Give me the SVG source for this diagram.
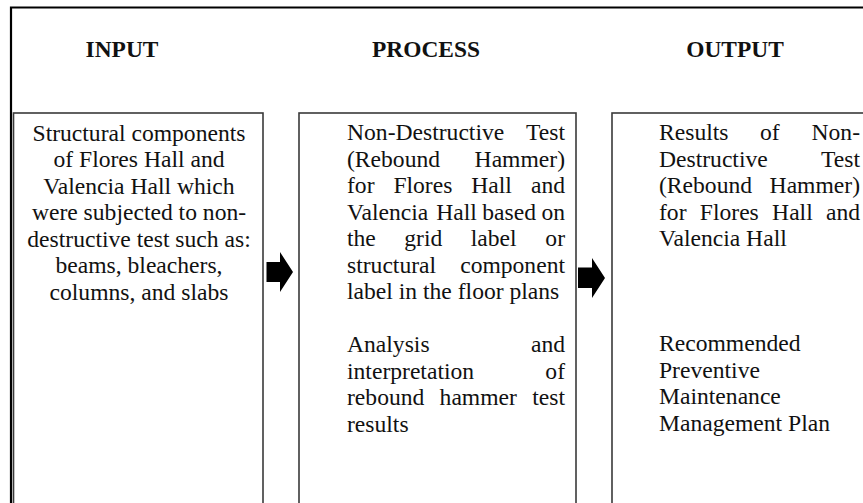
<svg xmlns="http://www.w3.org/2000/svg" width="863" height="503" viewBox="0 0 863 503" font-family="'Liberation Serif', 'Times New Roman', 'DejaVu Serif', serif">
<style>
text{font-family:'Liberation Serif','Times New Roman','DejaVu Serif',serif;font-size:23.6px;fill:#111}
.h{font-weight:bold;font-size:23.4px;text-anchor:middle}
.c{text-anchor:middle}
.e{text-anchor:end}
.box{fill:#fff;stroke:#3a3a3a;stroke-width:1.6}
.frame{fill:none;stroke:#000;stroke-width:2.2}
.arr{fill:#000}
</style>
<rect width="863" height="503" fill="#fff"/>
<path class="frame" d="M11,510 V7.5 H870"/>
<g id="headings">
<text class="h" x="122" y="57">INPUT</text>
<text class="h" x="426" y="57">PROCESS</text>
<text class="h" x="735" y="57">OUTPUT</text>
</g>
<g id="input">
<rect class="box" x="13.5" y="113" width="249.5" height="400"/>
<text class="c" x="139" y="140.5">Structural components</text>
<text class="c" x="139" y="167">of Flores Hall and</text>
<text class="c" x="139" y="193.5">Valencia Hall which</text>
<text class="c" x="139" y="220">were subjected to non-</text>
<text class="c" x="139" y="246.5">destructive test such as:</text>
<text class="c" x="139" y="273">beams, bleachers,</text>
<text class="c" x="139" y="299.5">columns, and slabs</text>
</g>
<g id="process">
<rect class="box" x="299" y="113" width="277" height="400"/>
<text x="347" y="140">Non-Destructive</text><text class="e" x="565" y="140">Test</text>
<text x="347" y="166.5">(Rebound</text><text class="e" x="565" y="166.5">Hammer)</text>
<text x="347" y="193">for</text><text x="393.4" y="193">Flores</text><text x="471.3" y="193">Hall</text><text class="e" x="565" y="193">and</text>
<text x="347" y="219.5">Valencia</text><text x="436.3" y="219.5">Hall</text><text x="482.3" y="219.5">based</text><text class="e" x="565" y="219.5">on</text>
<text x="347" y="246">the</text><text x="404.3" y="246">grid</text><text x="470.8" y="246">label</text><text class="e" x="565" y="246">or</text>
<text x="347" y="272.5">structural</text><text class="e" x="565" y="272.5">component</text>
<text x="347" y="299">label in the floor plans</text>
<text x="347" y="352">Analysis</text><text class="e" x="565" y="352">and</text>
<text x="347" y="378.5">interpretation</text><text class="e" x="565" y="378.5">of</text>
<text x="347" y="405">rebound</text><text x="439.6" y="405">hammer</text><text class="e" x="565" y="405">test</text>
<text x="347" y="431.5">results</text>
</g>
<g id="output">
<rect class="box" x="612" y="113" width="260" height="400"/>
<text x="659" y="140">Results</text><text x="760" y="140">of</text><text class="e" x="860" y="140">Non-</text>
<text x="659" y="166.5">Destructive</text><text class="e" x="860" y="166.5">Test</text>
<text x="659" y="193">(Rebound</text><text class="e" x="860" y="193">Hammer)</text>
<text x="659" y="219.5">for</text><text x="699.8" y="219.5">Flores</text><text x="772.1" y="219.5">Hall</text><text class="e" x="860" y="219.5">and</text>
<text x="659" y="246">Valencia Hall</text>
<text x="659" y="351">Recommended</text>
<text x="659" y="377.5">Preventive</text>
<text x="659" y="404">Maintenance</text>
<text x="659" y="430.5">Management Plan</text>
</g>
<g id="connectors">
<path class="arr" d="M266.5,262 H280 V252 L293,272 L280,292 V282 H266.5 Z"/>
<path class="arr" d="M578,267.5 H592 V258 L605,278 L592,298 V288 H578 Z"/>
</g>
</svg>
